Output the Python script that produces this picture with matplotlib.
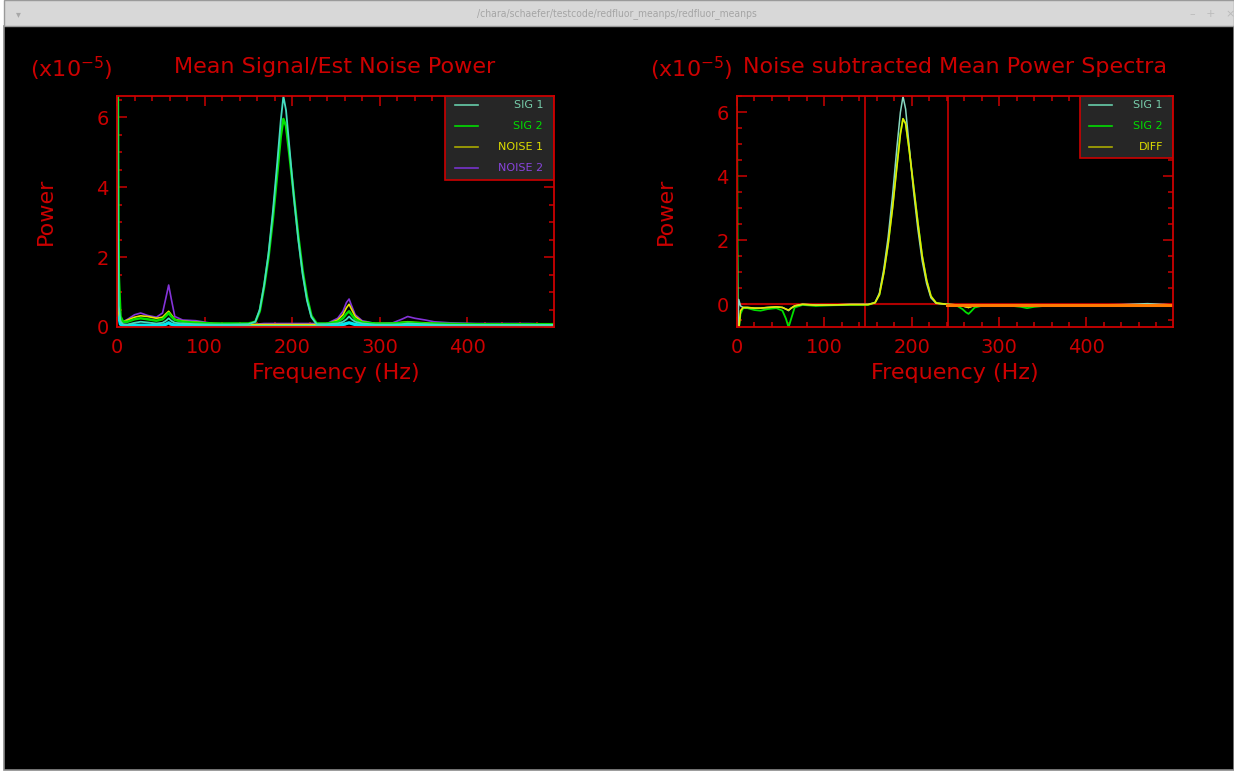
#!/usr/bin/env python3
"""
Mean power spectra window (IDL style) - signal / noise and noise-subtracted panels
"""

import matplotlib
matplotlib.use('Agg')
import matplotlib.pyplot as plt
from matplotlib.patches import Rectangle
from matplotlib.ticker import MultipleLocator

# ---- data (power in units of 1e-5) ----
freq = [0, 1, 2, 4, 7, 12, 20, 27, 35, 45, 52, 56, 59, 62, 66, 75, 90, 110, 130, 150,
        158, 163, 168, 173, 178, 183, 187, 190, 193, 197, 202, 207, 212, 217, 222, 228,
        240, 252, 258, 262, 265, 268, 272, 280, 295, 315, 325, 332, 340, 352, 362, 380,
        410, 440, 470, 499]

sig1 = [9.0, 3.0, 0.6, 0.15, 0.08, 0.07, 0.12, 0.15, 0.13, 0.10, 0.12, 0.18, 0.25, 0.18, 0.12, 0.10, 0.08, 0.07, 0.07, 0.08,
        0.15, 0.50, 1.20, 2.10, 3.30, 4.70, 5.90, 6.60, 6.20, 5.10, 3.70, 2.50, 1.50, 0.75, 0.28, 0.08,
        0.08, 0.10, 0.15, 0.22, 0.30, 0.22, 0.15, 0.10, 0.07, 0.07, 0.08, 0.10, 0.09, 0.08, 0.07, 0.06,
        0.06, 0.06, 0.06, 0.06]
sig2 = [9.0, 6.7, 1.5, 0.30, 0.15, 0.15, 0.22, 0.25, 0.22, 0.18, 0.22, 0.32, 0.40, 0.30, 0.20, 0.15, 0.12, 0.10, 0.10, 0.10,
        0.15, 0.45, 1.15, 2.00, 3.10, 4.40, 5.45, 5.95, 5.75, 4.90, 3.75, 2.60, 1.60, 0.85, 0.32, 0.10,
        0.10, 0.15, 0.25, 0.38, 0.45, 0.35, 0.22, 0.13, 0.10, 0.10, 0.12, 0.13, 0.12, 0.10, 0.10, 0.09,
        0.08, 0.08, 0.08, 0.08]
noise1 = [5.0, 1.2, 0.4, 0.20, 0.15, 0.20, 0.28, 0.32, 0.30, 0.25, 0.28, 0.38, 0.45, 0.35, 0.22, 0.17, 0.14, 0.10, 0.08, 0.07,
          0.07, 0.07, 0.07, 0.07, 0.07, 0.07, 0.07, 0.07, 0.07, 0.07, 0.07, 0.07, 0.07, 0.07, 0.07, 0.07,
          0.08, 0.20, 0.35, 0.55, 0.65, 0.50, 0.30, 0.15, 0.10, 0.10, 0.13, 0.15, 0.13, 0.12, 0.10, 0.08,
          0.07, 0.07, 0.06, 0.06]
noise2 = [4.5, 1.5, 0.5, 0.20, 0.15, 0.22, 0.35, 0.40, 0.33, 0.28, 0.40, 0.85, 1.20, 0.80, 0.30, 0.20, 0.18, 0.10, 0.08, 0.08,
          0.08, 0.09, 0.10, 0.10, 0.10, 0.10, 0.10, 0.10, 0.10, 0.10, 0.10, 0.10, 0.10, 0.10, 0.10, 0.10,
          0.10, 0.25, 0.45, 0.70, 0.80, 0.60, 0.35, 0.18, 0.10, 0.12, 0.22, 0.30, 0.25, 0.20, 0.15, 0.12,
          0.10, 0.10, 0.10, 0.08]
base = [4.0, 1.0, 0.3, 0.08, 0.04, 0.04, 0.05, 0.05, 0.05, 0.04, 0.05, 0.08, 0.12, 0.08, 0.05, 0.04, 0.04, 0.03, 0.03, 0.03,
        0.04, 0.04, 0.04, 0.04, 0.04, 0.04, 0.04, 0.04, 0.04, 0.04, 0.04, 0.04, 0.04, 0.04, 0.04, 0.04,
        0.04, 0.05, 0.07, 0.10, 0.12, 0.10, 0.07, 0.05, 0.04, 0.04, 0.04, 0.05, 0.04, 0.04, 0.04, 0.04,
        0.04, 0.04, 0.04, 0.04]

# noise subtracted spectra
sub1 = [2.9, -0.8, 0.15, -0.05, -0.10, -0.10, -0.12, -0.12, -0.10, -0.08, -0.10, -0.15, -0.20, -0.12, -0.05, 0.0, -0.02, -0.02, 0.0, 0.0,
        0.05, 0.35, 1.10, 2.10, 3.40, 4.90, 6.00, 6.50, 6.10, 4.95, 3.55, 2.35, 1.35, 0.65, 0.20, 0.03,
        0.0, -0.02, -0.05, -0.08, -0.10, -0.07, -0.04, -0.03, -0.02, -0.02, -0.03, -0.04, -0.03, -0.02, -0.02, -0.02,
        -0.02, -0.01, 0.02, -0.02]
sub2 = [6.6, -0.8, -0.8, -0.30, -0.12, -0.12, -0.18, -0.20, -0.15, -0.12, -0.20, -0.45, -0.72, -0.45, -0.10, -0.02, -0.05, -0.03, -0.02, -0.02,
        0.05, 0.30, 1.00, 1.90, 3.05, 4.35, 5.35, 5.80, 5.65, 4.85, 3.70, 2.55, 1.50, 0.75, 0.25, 0.04,
        0.0, -0.05, -0.15, -0.25, -0.30, -0.22, -0.10, -0.05, -0.03, -0.05, -0.08, -0.12, -0.08, -0.05, -0.03, -0.03,
        -0.03, -0.03, -0.03, -0.03]
diff = [-0.8, -0.8, -0.8, -0.20, -0.10, -0.10, -0.12, -0.12, -0.10, -0.08, -0.10, -0.15, -0.18, -0.12, -0.05, 0.0, -0.03, -0.02, -0.01, -0.01,
        0.05, 0.30, 0.98, 1.88, 3.00, 4.30, 5.32, 5.80, 5.65, 4.85, 3.70, 2.55, 1.50, 0.75, 0.25, 0.04,
        0.0, -0.02, -0.05, -0.08, -0.10, -0.07, -0.04, -0.02, -0.02, -0.02, -0.02, -0.02, -0.02, -0.02, -0.02, -0.02,
        -0.02, -0.02, -0.02, -0.02]
fit_freq = [240, 499]
fit_level = [-0.03, -0.03]
band_edges = [147, 242]

left_labels = ['SIG 1', 'SIG 2', 'NOISE 1', 'NOISE 2']
right_labels = ['SIG 1', 'SIG 2', 'DIFF']

RED = '#cc0000'
C_SIG1 = '#45dcc0'
C_SIG2 = '#00e000'
C_N1 = '#e6e600'
C_N2 = '#8433d8'
C_BASE = '#00e8f0'
LEG_LINE = ['#66ccaa', '#00dd00', '#aaaa00', '#7733cc']
LEG_TEXT = ['#77ccaa', '#00dd00', '#dddd00', '#8844dd']

plt.rcParams['font.family'] = ['DejaVu Sans']
FS = 14
FS_T = 16

fig = plt.figure(figsize=(12.34, 7.73), dpi=100, facecolor='white')
W, H = 1234, 773

# window frame: black canvas + title bar
fig.patches.append(Rectangle((4 / W, 3 / H), 1 - 4 / W, (H - 29) / H, transform=fig.transFigure,
                             facecolor='black', edgecolor='#8a8a8a', lw=1.2, zorder=-10))
fig.patches.append(Rectangle((4 / W, (H - 26) / H), 1 - 4 / W, 26 / H, transform=fig.transFigure,
                             facecolor='#d8d8d8', edgecolor='#9a9a9a', lw=1.0, zorder=-10))
fig.text(0.5, (H - 14) / H, '/chara/schaefer/testcode/redfluor_meanps/redfluor_meanps',
         color='#a5a5a5', fontsize=7.5, ha='center', va='center', fontstretch='condensed')
fig.text(18 / W, (H - 14) / H, '\u25be', color='#a8a8a8', fontsize=7, ha='center', va='center')
fig.text(1190 / W, (H - 14) / H, '\u2013   +   \u00d7', color='#bbbbbb', fontsize=8, ha='left', va='center')


def style_axes(ax, ylim):
    ax.set_facecolor('black')
    ax.set_xlim(0, 499)
    ax.set_ylim(*ylim)
    for s in ax.spines.values():
        s.set_color(RED)
        s.set_linewidth(1.3)
        s.set_zorder(12)
    ax.xaxis.set_major_locator(MultipleLocator(100))
    ax.xaxis.set_minor_locator(MultipleLocator(20))
    ax.yaxis.set_major_locator(MultipleLocator(2))
    ax.yaxis.set_minor_locator(MultipleLocator(0.5))
    ax.tick_params(which='both', direction='in', top=True, right=True, colors=RED, width=1.1,
                   labelsize=FS, labelcolor=RED)
    ax.tick_params(which='major', length=7.5)
    ax.tick_params(which='minor', length=3.8)
    ax.tick_params(axis='x', pad=8)
    ax.tick_params(axis='y', pad=6)
    ax.set_xlabel('Frequency (Hz)', color=RED, fontsize=FS_T)
    ax.xaxis.label.set_va('center')
    ax.xaxis.set_label_coords(0.5, -0.2)
    ax.set_ylabel('Power', color=RED, fontsize=FS_T)
    ax.yaxis.label.set_va('center')
    ax.yaxis.set_label_coords(-0.163, 0.5)


def draw_legend(ax, x0, ybot, rows, line_x, text_x, labels):
    ax.add_patch(Rectangle((x0, ybot), 1 - x0, 1 - ybot, transform=ax.transAxes,
                           facecolor='#262626', edgecolor=RED, lw=1.2, zorder=10))
    for i, lab in enumerate(labels):
        ax.plot(line_x, [rows[i], rows[i]], transform=ax.transAxes, color=LEG_LINE[i],
                lw=1.2, zorder=11)
        ax.text(text_x, rows[i], lab, transform=ax.transAxes, color=LEG_TEXT[i],
                fontsize=8, ha='right', va='center', zorder=11)


# ---- left panel ----
ax1 = fig.add_axes([117 / W, (H - 327) / H, 437 / W, 231.5 / H])
style_axes(ax1, (0, 6.62))
ax1.plot(freq, base, color=C_BASE, lw=2.4)
ax1.plot(freq, noise2, color=C_N2, lw=1.2)
ax1.plot(freq, noise1, color=C_N1, lw=1.2)
ax1.plot(freq, sig2, color=C_SIG2, lw=1.8)
ax1.plot(freq, sig1, color=C_SIG1, lw=1.3)
draw_legend(ax1, 0.7506, 0.635, [0.959, 0.868, 0.778, 0.687], [0.7735, 0.826], 0.975, left_labels)
fig.text(335 / W, (H - 67) / H, 'Mean Signal/Est Noise Power', color=RED, fontsize=FS_T,
         ha='center', va='center')
fig.text(71 / W, (H - 69) / H, r'(x10$^{-5}$)', color=RED, fontsize=FS_T, ha='center', va='center')

# ---- right panel ----
ax2 = fig.add_axes([737 / W, (H - 327) / H, 436 / W, 231 / H])
style_axes(ax2, (-0.71, 6.51))
ax2.axhline(0, color='#b00000', lw=1.5, zorder=1)
for f in band_edges:
    ax2.axvline(f, color=RED, lw=1.2, zorder=1)
ax2.plot(freq, sub2, color=C_SIG2, lw=1.3, zorder=3)
ax2.plot(freq, sub1, color='#88d8c0', lw=1.1, zorder=4)
ax2.plot(freq, diff, color=C_N1, lw=1.2, zorder=5)
ax2.plot(fit_freq, fit_level, color='#ff7a00', lw=2.2, zorder=6)
draw_legend(ax2, 0.787, 0.730, [0.960, 0.869, 0.778], [0.807, 0.860], 0.977, right_labels)
fig.text(955 / W, (H - 67) / H, 'Noise subtracted Mean Power Spectra', color=RED, fontsize=FS_T,
         ha='center', va='center')
fig.text(691 / W, (H - 69) / H, r'(x10$^{-5}$)', color=RED, fontsize=FS_T, ha='center', va='center')

plt.savefig('out.png', dpi=100, facecolor=fig.get_facecolor())
plt.close()
